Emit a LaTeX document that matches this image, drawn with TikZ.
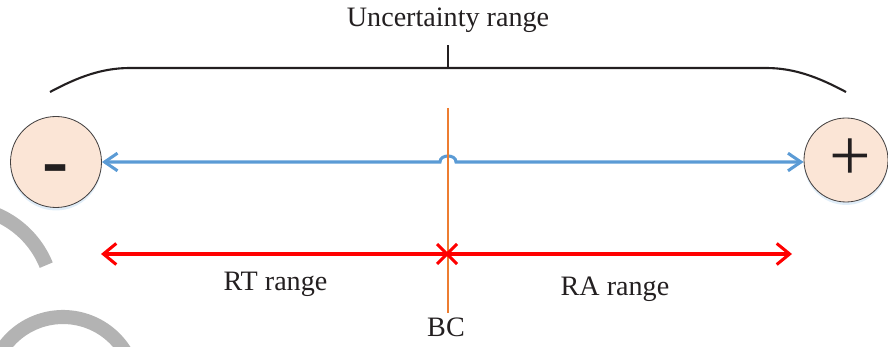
\documentclass[tikz,border=0pt]{standalone}
\usepackage{fontspec}
\setmainfont{Liberation Serif}
\newfontfamily\tnrfont{Liberation Serif}
\usetikzlibrary{arrows.meta,shadows}
\definecolor{cblue}{HTML}{5B9BD5}
\definecolor{corange}{HTML}{ED7D31}
\definecolor{cred}{HTML}{FF0000}
\definecolor{cpeach}{HTML}{FBE5D6}
\definecolor{cgray}{HTML}{B3B3B3}
\definecolor{cink}{HTML}{231F20}
\definecolor{cglow}{HTML}{DDEBF7}
\begin{document}
\begin{tikzpicture}[x=0.03cm,y=-0.03cm,
  lbl/.style={font=\tnrfont\fontsize{24}{28}\selectfont, anchor=base, inner sep=0pt, text=cink},
  endcircle/.style={circle, draw=cink!85, line width=0.7pt, fill=cpeach, inner sep=0pt,
     drop shadow={shadow xshift=0pt, shadow yshift=-2.5pt, fill=cglow, opacity=0.9}},
  sign/.style={anchor=base, inner sep=0pt, text=cink},
  brace/.style={draw=cink, line width=1.8pt},
  bluearrow/.style={draw=cblue, line width=2.6pt,
     {Straight Barb[length=11pt,width=15pt,line width=2.6pt]}-{Straight Barb[length=11pt,width=15pt,line width=2.6pt]}},
  redarrow/.style={draw=cred, line width=2.6pt,
     {Straight Barb[length=11pt,width=18pt,line width=2.6pt]}-{Straight Barb[length=11pt,width=18pt,line width=2.6pt]}},
  redmark/.style={draw=cred, line width=2.6pt},
  bcline/.style={draw=corange, line width=1.8pt},
  watermark/.style={draw=cgray, line width=12pt}
]
\useasboundingbox (0,0) rectangle (888,347);

% grey arcs at the lower left
\draw[watermark] plot[domain=22:75, samples=40] ({-40+93*cos(\x)},{300-93*sin(\x)});
\draw[watermark] plot[domain=15:165, samples=60] ({63+73*cos(\x)},{390-73*sin(\x)});

% brace and title
\draw[brace] (50,92) .. controls (78,77) and (102,68) .. (130,68) -- (766,68)
   .. controls (794,68) and (818,77) .. (846,92);
\draw[brace] (448,68) -- (448,45);
\node[lbl] (title) at (448,27) {Uncertainty range};

% end circles
\node[endcircle, minimum size=2.73cm] (neg) at (56,162) {};
\node[endcircle, minimum size=2.52cm] (pos) at (846,160) {};
\node[sign, font=\tnrfont\fontsize{67}{67}\selectfont\bfseries] (minus) at (56,187) {-};
\node[sign, font=\tnrfont\fontsize{63}{63}\selectfont] (plus) at (850,180.5) {+};

% blue arrow with hop
\coordinate (hopL) at (440,162);
\coordinate (hopR) at (456,162);
\draw[bluearrow] (neg) -- (hopL) .. controls +(0,-8) and +(0,-8) .. (hopR) -- (hopR -| pos.west);

% orange BC line
\coordinate (bcTop) at (448,108);
\coordinate (bcBot) at (448,313);
\draw[bcline] (bcTop) -- (bcBot);

% red ranges
\coordinate (rL) at (101,254);
\coordinate (rR) at (792,254);
\coordinate (bc) at (447,254);
\draw[redarrow] (rL) -- (rR);
\draw[redmark] ([shift={(-10,-10)}]bc) -- ([shift={(10,10)}]bc);
\draw[redmark] ([shift={(-10,10)}]bc) -- ([shift={(10,-10)}]bc);

% labels
\node[lbl] (rt) at (275.5,291) {RT range};
\node[lbl] (ra) at (615,296) {RA range};
\node[lbl] (bclabel) at (446,337) {BC};
\end{tikzpicture}
\end{document}
